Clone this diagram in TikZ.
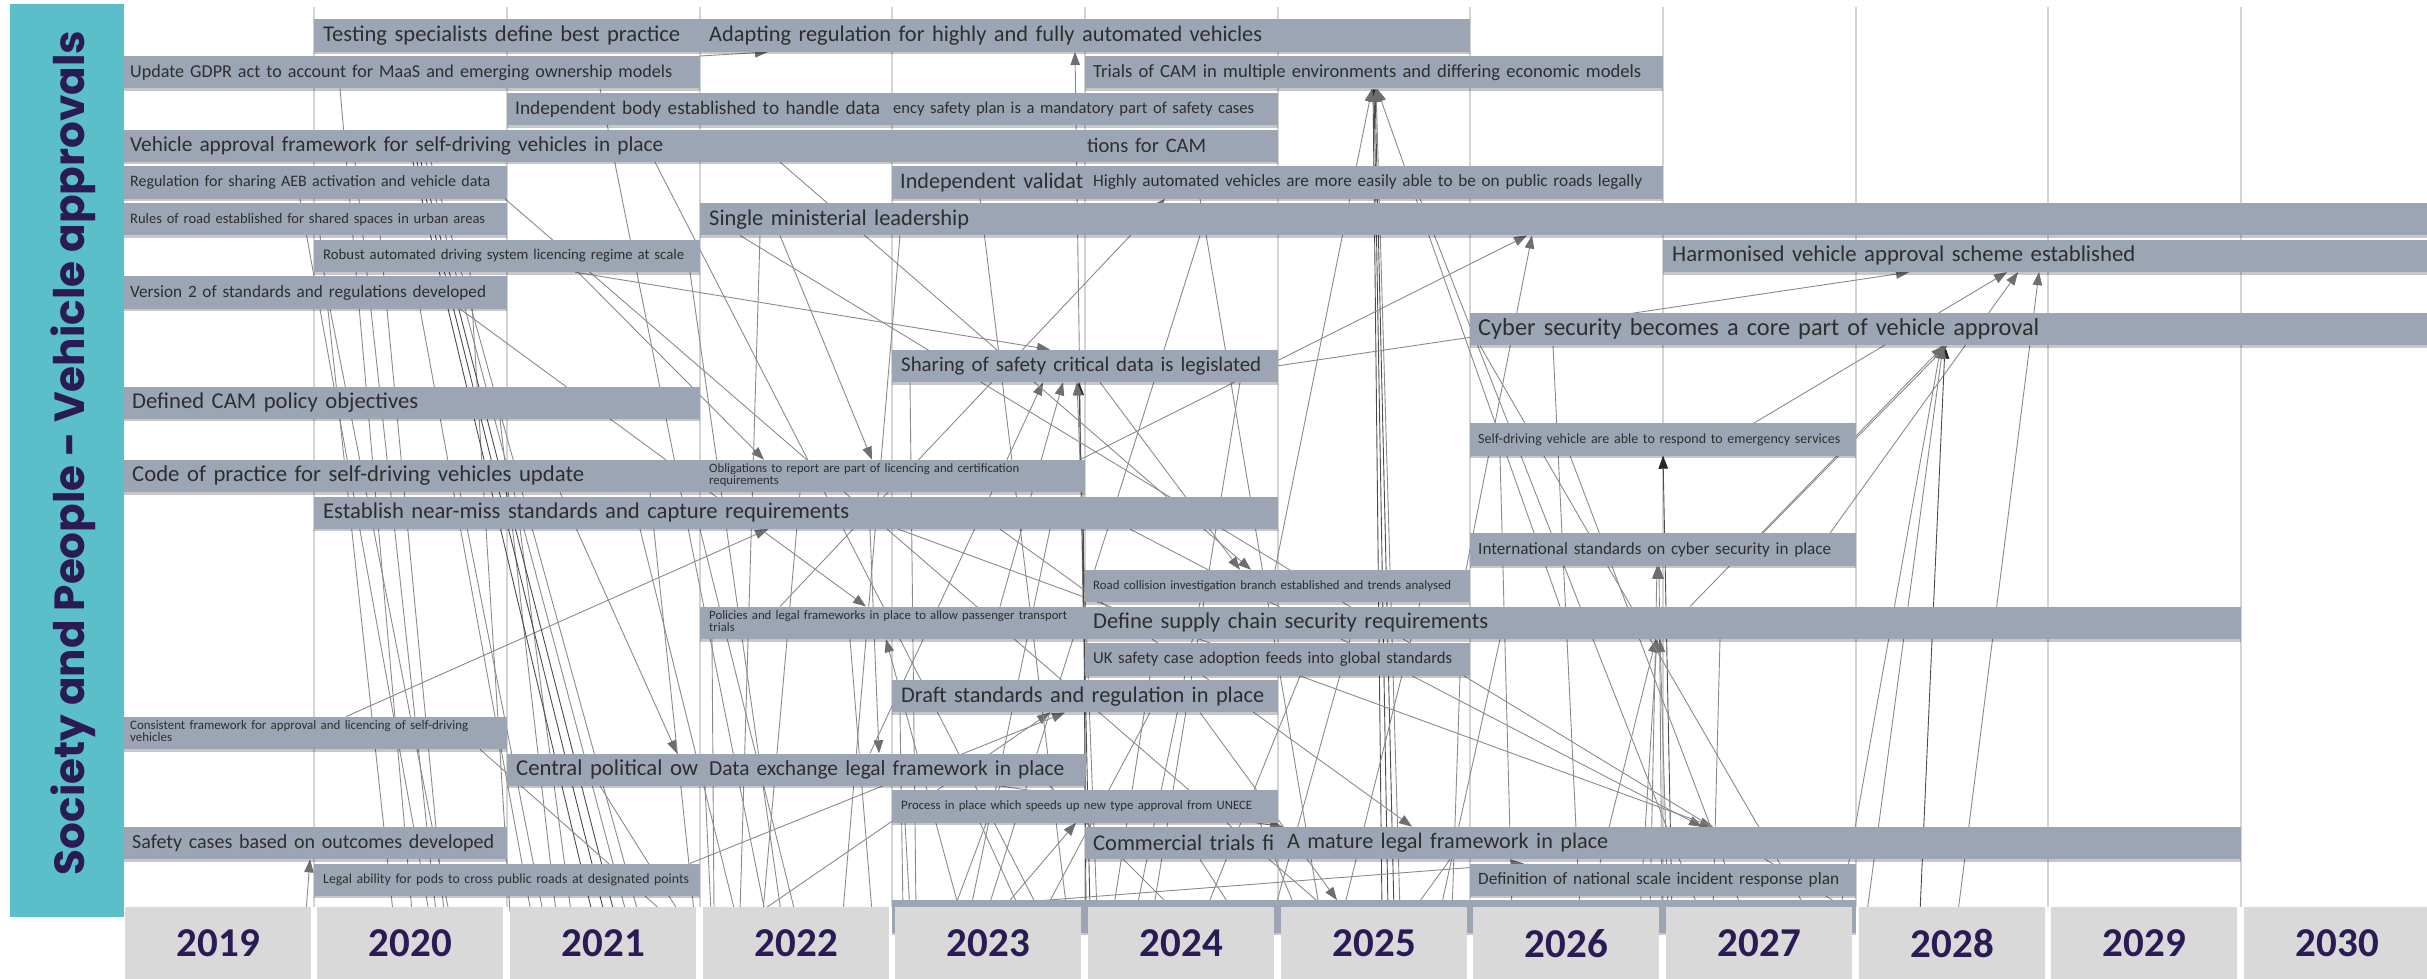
\documentclass[tikz,border=0pt]{standalone}
\usepackage{fontspec}
\setmainfont{Carlito}
\newfontfamily\popfont{Poppins}
\usepackage{graphicx}
\usetikzlibrary{arrows.meta,backgrounds,shadows}
\definecolor{boxc}{HTML}{9CA5B4}
\definecolor{txtc}{HTML}{2E2E2E}
\definecolor{gridc}{HTML}{D4D4D4}
\definecolor{yearc}{HTML}{D9D9D9}
\definecolor{purp}{HTML}{2B1B55}
\definecolor{tealc}{HTML}{5BBFCA}
\definecolor{linec}{HTML}{8A8A8A}
\definecolor{arrc}{HTML}{6E6E6E}
\tikzset{
  box/.style={fill=boxc, anchor=north west, inner ysep=0pt, minimum height=32.3pt,
    text=txtc, align=left, font=\normalsize,
    drop shadow={shadow xshift=0pt, shadow yshift=-2.5pt, opacity=0.22, fill=black}},
  yearbox/.style={fill=yearc, anchor=north west, minimum width=186pt, minimum height=72pt,
    inner sep=0pt, text=purp, font=\bfseries\fontsize{41}{41}\selectfont},
  conn/.style={draw=linec, line width=0.9pt},
  dk/.style={draw=black!70},
  arr/.style={-{Triangle[length=13pt,width=9.5pt,color=arrc]}},
  arrdk/.style={-{Triangle[length=13pt,width=9.5pt,color=black!85]}}
}
\newcommand\fitt[2]{\resizebox{#1pt}{!}{#2}}
\newcommand\two[2]{{\renewcommand\arraystretch{0.8}\begin{tabular}{@{}l@{}}#1\\#2\end{tabular}}}
\newcommand\Bx[6]{%
  \pgfmathsetmacro\bw{#3-#2}%
  \pgfmathsetmacro\btw{#3-#2-2*#5}%
  \pgfmathsetmacro\by{19.3+36.7*#4}%
  \node[box, inner xsep=#5pt, minimum width=\bw pt, text width=\btw pt] (#1) at (#2,\by) {#6};}
\newcommand\lnk[5][]{\draw[conn,#1] (#2,0 |- #3) -- (#4,0 |- #5);}
\newcommand\lnka[5][]{\draw[conn,arr,#1] (#2,0 |- #3) -- (#4,0 |- #5);}
\begin{document}
\begin{tikzpicture}[x=1pt,y=-1pt]
\useasboundingbox (0,0) rectangle (2427,979);
\coordinate (bot) at (0,912);
% lane bar
\node[fill=tealc, anchor=north west, minimum width=114pt, minimum height=913pt, inner sep=0pt] (lanebar) at (10,4) {};
\node[rotate=90, anchor=base, text=purp, inner sep=0pt] (lanetitle) at (84,453)
  {\popfont\bfseries\resizebox{844pt}{!}{Society and People - Vehicle approvals}};
% boxes
\Bx{tsp}{314}{700}{0}{9}{\fitt{357}{Testing specialists define best practice}}
\Bx{adapt}{700}{1470}{0}{9}{\fitt{553}{Adapting regulation for highly and fully automated vehicles}}
\Bx{gdpr}{124}{700}{1}{6}{\fitt{542}{Update GDPR act to account for MaaS and emerging ownership models}}
\Bx{trials}{1085}{1663}{1}{8}{\fitt{548}{Trials of CAM in multiple environments and differing economic models}}
\Bx{emerg}{892}{1278}{2}{1}{\fitt{361}{ency safety plan is a mandatory part of safety cases}}
\Bx{indep}{507}{892}{2}{8}{\fitt{365}{Independent body established to handle data}}
\Bx{vaf}{124}{700}{3}{6}{\fitt{533}{Vehicle approval framework for self-driving vehicles in place}}
\Bx{blank3}{700}{1085}{3}{8}{}
\Bx{regcam}{1085}{1278}{3}{2}{\fitt{119}{tions for CAM}}
\Bx{aeb}{124}{507}{4}{6}{\fitt{360}{Regulation for sharing AEB activation and vehicle data}}
\Bx{ivalid}{892}{1085}{4}{8}{\fitt{183}{Independent validat}}
\Bx{highly}{1085}{1663}{4}{8}{\fitt{549}{Highly automated vehicles are more easily able to be on public roads legally}}
\Bx{rules}{124}{507}{5}{6}{\fitt{355}{Rules of road established for shared spaces in urban areas}}
\Bx{single}{700}{2427}{5}{9}{\fitt{260}{Single ministerial leadership}}
\Bx{robust}{314}{700}{6}{9}{\fitt{361}{Robust automated driving system licencing regime at scale}}
\Bx{harmon}{1663}{2427}{6}{9}{\fitt{463}{Harmonised vehicle approval scheme established}}
\Bx{ver2}{124}{507}{7}{6}{\fitt{356}{Version 2 of standards and regulations developed}}
\Bx{cyber}{1470}{2427}{8}{8}{\fitt{561}{Cyber security becomes a core part of vehicle approval}}
\Bx{sharing}{892}{1278}{9}{9}{\fitt{360}{Sharing of safety critical data is legislated}}
\Bx{defcam}{124}{700}{10}{8}{\fitt{286}{Defined CAM policy objectives}}
\Bx{selfdrv}{1470}{1856}{11}{8}{\fitt{362}{Self-driving vehicle are able to respond to emergency services}}
\Bx{cop}{124}{700}{12}{8}{\fitt{452}{Code of practice for self-driving vehicles update}}
\Bx{oblig}{700}{1085}{12}{9}{\fitt{310}{\two{Obligations to report are part of licencing and certification}{requirements}}}
\Bx{nearmiss}{314}{1278}{13}{9}{\fitt{526}{Establish near-miss standards and capture requirements}}
\Bx{intstd}{1470}{1856}{14}{8}{\fitt{353}{International standards on cyber security in place}}
\Bx{roadcol}{1085}{1470}{15}{8}{\fitt{358}{Road collision investigation branch established and trends analysed}}
\Bx{policies}{700}{1085}{16}{9}{\fitt{358}{\two{Policies and legal frameworks in place to allow passenger transport}{trials}}}
\Bx{supply}{1085}{2241}{16}{8}{\fitt{395}{Define supply chain security requirements}}
\Bx{ukcase}{1085}{1470}{17}{8}{\fitt{359}{UK safety case adoption feeds into global standards}}
\Bx{draft}{892}{1278}{18}{9}{\fitt{363}{Draft standards and regulation in place}}
\Bx{consist}{124}{507}{19}{6}{\fitt{338}{\two{Consistent framework for approval and licencing of self-driving}{vehicles}}}
\Bx{central}{507}{700}{20}{9}{\fitt{182}{Central political ow}}
\Bx{dataex}{700}{1085}{20}{9}{\fitt{355}{Data exchange legal framework in place}}
\Bx{process}{892}{1278}{21}{9}{\fitt{351}{Process in place which speeds up new type approval from UNECE}}
\Bx{safety}{124}{507}{22}{8}{\fitt{362}{Safety cases based on outcomes developed}}
\Bx{commer}{1085}{1278}{22}{8}{\fitt{181}{Commercial trials fi}}
\Bx{mature}{1278}{2241}{22}{9}{\fitt{321}{A mature legal framework in place}}
\Bx{pods}{314}{700}{23}{9}{\fitt{366}{Legal ability for pods to cross public roads at designated points}}
\Bx{natinc}{1470}{1856}{23}{8}{\fitt{361}{Definition of national scale incident response plan}}
\Bx{row24}{892}{1856}{24}{8}{}
% year boxes
\foreach \xa/\yr in {125/2019,317/2020,510/2021,703/2022,895/2023,1088/2024,1281/2025,1473/2026,1666/2027,1859/2028,2051/2029,2244/2030}
  \node[yearbox] (y\yr) at (\xa,907) {\yr};
% background: grid and connectors
\begin{pgfonlayer}{background}
\foreach \gx in {314,507,700,892,1085,1278,1470,1663,1856,2048,2241}
  \draw[gridc, line width=1.6pt] (\gx,7) -- (\gx,907);
% arrows
\lnka{700}{gdpr.north}{768}{adapt.south}
\lnka{1083}{policies.north}{1075}{adapt.south}
\lnka[dk,arrdk]{1382}{bot}{1373}{trials.south}
\lnka[dk,arrdk]{1388}{bot}{1374}{trials.south}
\lnka[dk,arrdk]{1394}{bot}{1375}{trials.south}
\lnka{1400}{bot}{1376}{trials.south}
\lnka{1560}{supply.north}{1377}{trials.south}
\lnka{1275}{roadcol.north}{1372}{trials.south}
\lnka{1080}{oblig.north}{1527}{single.south}
\lnka{1466}{roadcol.north}{1532}{single.south}
\lnka{1277}{sharing.east}{1909}{harmon.south}
\lnka{1754}{selfdrv.north}{2007}{harmon.south}
\lnka{1830}{intstd.north}{2018}{harmon.south}
\lnka{1958}{bot}{2039}{harmon.south}
\lnka[dk,arrdk]{1920}{bot}{1945}{cyber.south}
\lnka{1867}{bot}{1943}{cyber.south}
\lnka{1840}{bot}{1941}{cyber.south}
\lnka{1690}{supply.north}{1944}{cyber.south}
\lnka{1763}{intstd.north}{1947}{cyber.south}
\lnka[dk,arrdk]{1672}{bot}{1663}{selfdrv.south}
\lnka{1650}{bot}{1657}{intstd.south}
\lnka{1662}{bot}{1659}{intstd.south}
\lnka{1640}{bot}{1657}{supply.south}
\lnka{1668}{bot}{1660}{supply.south}
\lnka{1600}{natinc.north}{1656}{supply.south}
\lnka{1130}{nearmiss.south}{1702}{mature.north}
\lnka{898}{nearmiss.south}{1713}{mature.north}
\lnka{870}{dataex.north}{1043}{sharing.south}
\lnka{1000}{policies.north}{1063}{sharing.south}
\lnka[dk,arrdk]{1090}{bot}{1079}{sharing.south}
\lnka{1097}{bot}{1077}{sharing.south}
\lnka{575}{robust.south}{1050}{sharing.north}
\lnka{578}{robust.south}{764}{oblig.north}
\lnka{780}{single.south}{872}{oblig.north}
\lnka{346}{consist.north}{768}{nearmiss.south}
\lnka{460}{ver2.south}{866}{policies.north}
\lnka{960}{bot}{886}{policies.south}
\lnka{870}{nearmiss.south}{879}{dataex.north}
\lnka{560}{cop.south}{677}{central.north}
\lnka{760}{bot}{1050}{draft.south}
\lnka{690}{pods.north}{1065}{draft.south}
\lnka{1000}{bot}{1076}{process.south}
\lnka{1200}{draft.south}{1337}{row24.north}
\lnka{1000}{nearmiss.south}{1412}{mature.north}
\lnka{1000}{dataex.south}{1283}{mature.north}
\lnka{1100}{sharing.south}{1240}{roadcol.north}
\lnka{780}{blank3.south}{1251}{roadcol.north}
\lnka{306}{bot}{310}{safety.south}
\lnka{893}{bot}{1524}{natinc.north}
\lnka{780}{policies.north}{1165}{highly.south}
% lines leaving the lane
\lnk{320}{rules.south}{393}{bot}
\lnk{340}{gdpr.south}{412}{bot}
\lnk{300}{aeb.south}{429}{bot}
\lnk{355}{vaf.south}{436}{bot}
\lnk{380}{rules.south}{444}{bot}
\lnk{330}{ver2.south}{449}{bot}
\lnk{470}{robust.south}{510}{bot}
\lnk{420}{ver2.south}{531}{bot}
\lnk{460}{cop.south}{543}{bot}
\lnk{500}{defcam.south}{556}{bot}
\lnk{520}{nearmiss.south}{571}{bot}
\lnk[dk]{413}{vaf.south}{592}{bot}
\lnk[dk]{417}{vaf.south}{604}{bot}
\lnk[dk]{421}{vaf.south}{614}{bot}
\lnk{426}{vaf.south}{626}{bot}
\lnk{431}{vaf.south}{638}{bot}
\lnk{480}{consist.south}{663}{bot}
\lnk{600}{central.south}{679}{bot}
\lnk{650}{cop.south}{694}{bot}
\lnk{712}{policies.south}{714}{bot}
\lnk{640}{nearmiss.south}{735}{bot}
\lnk{600}{gdpr.south}{765}{bot}
\lnk{690}{robust.south}{781}{bot}
\lnk{505}{aeb.south}{1330}{bot}
\lnk{655}{vaf.south}{1040}{bot}
\lnk{705}{dataex.south}{711}{bot}
\lnk{760}{single.south}{740}{bot}
\lnk{800}{oblig.south}{763}{bot}
\lnk{700}{nearmiss.south}{795}{bot}
\lnk{900}{single.south}{843}{bot}
\lnk{850}{policies.south}{872}{bot}
\lnk{900}{draft.south}{903}{bot}
\lnk{905}{process.south}{910}{bot}
\lnk{910}{sharing.south}{916}{bot}
\lnk{1000}{dataex.south}{953}{bot}
\lnk{1050}{nearmiss.south}{970}{bot}
\lnk{1200}{single.south}{987}{bot}
\lnk{980}{process.south}{1021}{bot}
\lnk{1150}{draft.south}{1044}{bot}
\lnk{980}{ivalid.south}{1067}{bot}
\lnk[dk]{1083}{oblig.south}{1086}{bot}
\lnk{1150}{ukcase.south}{1113}{bot}
\lnk{1200}{roadcol.south}{1136}{bot}
\lnk{1240}{sharing.south}{1153}{bot}
\lnk{1050}{dataex.south}{1176}{bot}
\lnk{1300}{ukcase.south}{1205}{bot}
\lnk{1200}{commer.south}{1234}{bot}
\lnk{1350}{supply.south}{1274}{bot}
\lnk{1260}{process.south}{1297}{bot}
\lnk{1200}{highly.south}{1320}{bot}
\lnk{1420}{roadcol.south}{1343}{bot}
\lnk{1450}{mature.south}{1412}{bot}
\lnk{1500}{supply.south}{1440}{bot}
\lnk{1460}{ukcase.south}{1452}{bot}
\lnk{1500}{selfdrv.south}{1512}{bot}
\lnk{1720}{supply.south}{1713}{bot}
\lnk{1570}{selfdrv.south}{1743}{bot}
\lnk{1480}{cyber.south}{1808}{bot}
\lnk{1553}{cyber.south}{1580}{bot}
\lnk{740}{single.south}{1852}{bot}
\lnk{1420}{highly.south}{1700}{bot}
\end{pgfonlayer}
\end{tikzpicture}
\end{document}
